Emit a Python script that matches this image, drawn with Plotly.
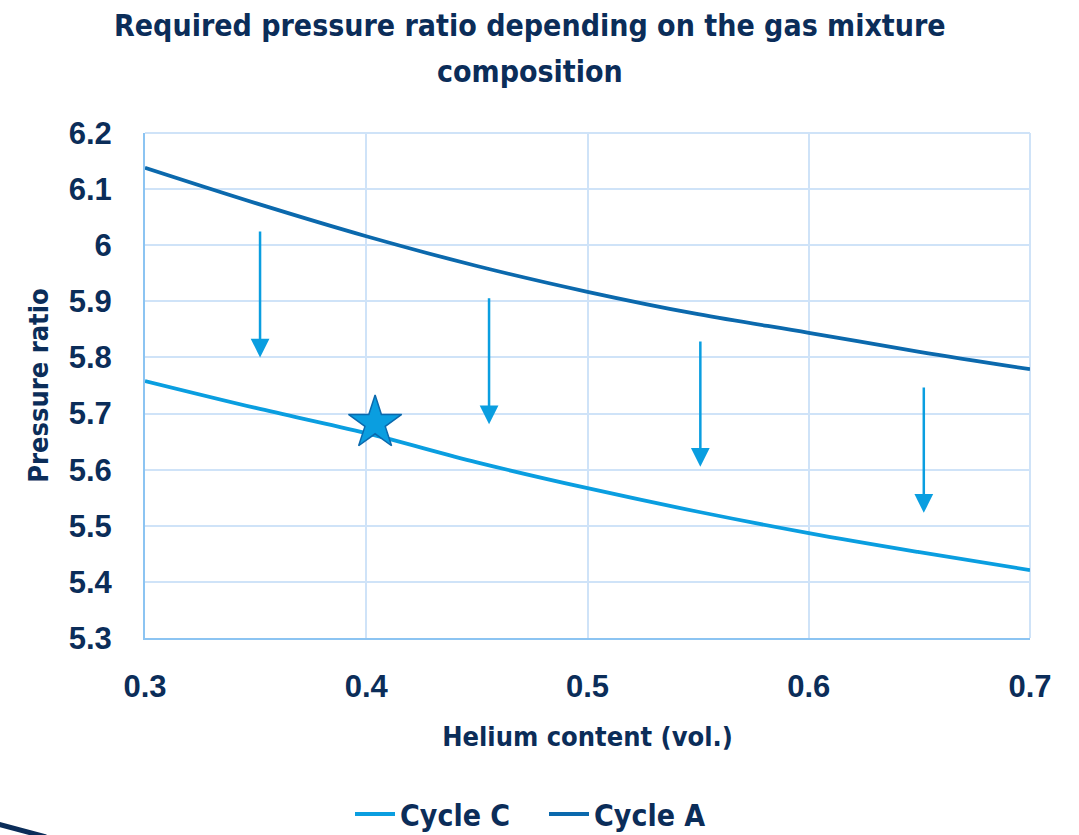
import plotly.graph_objects as go

helium = [0.30, 0.35, 0.40, 0.45, 0.50, 0.55, 0.60, 0.65, 0.70]
cycle_a = [6.138, 6.075, 6.016, 5.963, 5.917, 5.877, 5.844, 5.810, 5.779]
cycle_c = [5.758, 5.710, 5.665, 5.613, 5.567, 5.525, 5.487, 5.453, 5.421]

star_x = [0.404]
star_y = [5.683]

arrow_x = [0.352, 0.4555, 0.551, 0.652]
arrow_top = [6.027, 5.908, 5.831, 5.749]
arrow_bottom = [5.800, 5.681, 5.605, 5.523]

x_ticks = [0.3, 0.4, 0.5, 0.6, 0.7]
y_ticks = [5.3, 5.4, 5.5, 5.6, 5.7, 5.8, 5.9, 6.0, 6.1, 6.2]
y_labels = ["5.3", "5.4", "5.5", "5.6", "5.7", "5.8", "5.9", "6", "6.1", "6.2"]

title_lines = ["Required pressure ratio depending on the gas mixture", "composition"]

NAVY = "#0b2d59"
C_COLOR = "#0a9ee0"
A_COLOR = "#0b69ad"
GRID = "#cfe3f8"
AXIS = "#8cc4f2"
NARROW = "DejaVu Sans Condensed, Liberation Sans Narrow, Arial Narrow, sans-serif"
SANS = "Liberation Sans, Arial, sans-serif"

L, R, T, B = 145, 49, 133, 197
W, H = 1079, 835
PW, PH = W - L - R, H - T - B


def px(xp):
    return (xp - L) / PW


def py(yp):
    return (H - B - yp) / PH


fig = go.Figure()
fig.add_trace(go.Scatter(x=helium, y=cycle_c, mode="lines", name="Cycle C",
                         line=dict(color=C_COLOR, width=3.8, shape="spline")))
fig.add_trace(go.Scatter(x=helium, y=cycle_a, mode="lines", name="Cycle A",
                         line=dict(color=A_COLOR, width=3.8, shape="spline")))
fig.add_trace(go.Scatter(x=star_x, y=star_y, mode="markers", showlegend=False,
                         marker=dict(symbol="star", size=40, color=C_COLOR,
                                     line=dict(color=A_COLOR, width=1.5))))

for xa, yt, yb in zip(arrow_x, arrow_top, arrow_bottom):
    fig.add_annotation(x=xa, y=yb, ax=xa, ay=yt, xref="x", yref="y",
                       axref="x", ayref="y", text="", showarrow=True,
                       arrowhead=2, arrowsize=1.5, arrowwidth=2.5,
                       arrowcolor=C_COLOR)

# title lines
for txt, yc in zip(title_lines, [25, 72]):
    fig.add_annotation(text="<b>%s</b>" % txt, xref="paper", yref="paper",
                       x=px(530), y=py(yc), xanchor="center", yanchor="middle",
                       showarrow=False,
                       font=dict(family=NARROW, size=30, color=NAVY))

# frame edges (top and right) in grid colour
fig.add_shape(type="line", xref="paper", yref="paper", x0=1, x1=1, y0=0, y1=1,
              line=dict(color=GRID, width=2), layer="below")
fig.add_shape(type="line", xref="paper", yref="paper", x0=0, x1=1, y0=1, y1=1,
              line=dict(color=GRID, width=2), layer="below")

# decorative stroke at bottom-left corner
fig.add_shape(type="line", xref="paper", yref="paper",
              x0=px(-2), y0=py(824), x1=px(46), y1=py(837),
              line=dict(color=NAVY, width=5))

fig.update_layout(
    width=W, height=H,
    margin=dict(l=L, r=R, t=T, b=B, autoexpand=False),
    paper_bgcolor="white", plot_bgcolor="white",
    xaxis=dict(range=[0.3, 0.7], tickvals=x_ticks, ticktext=[str(v) for v in x_ticks],
               showgrid=True, gridcolor=GRID, gridwidth=2,
               showline=True, linecolor=AXIS, linewidth=2,
               zeroline=False, ticks="", ticklabelstandoff=20,
               tickfont=dict(family=SANS, size=31, color=NAVY, weight="bold"),
               title=dict(text="<b>Helium content (vol.)</b>", standoff=24,
                          font=dict(family=NARROW, size=27, color=NAVY))),
    yaxis=dict(range=[5.3, 6.2], tickvals=y_ticks, ticktext=y_labels,
               showgrid=True, gridcolor=GRID, gridwidth=2,
               showline=True, linecolor=AXIS, linewidth=2,
               zeroline=False, ticks="", ticklabelstandoff=25,
               tickfont=dict(family=SANS, size=31, color=NAVY, weight="bold"),
               title=dict(text="<b>Pressure ratio</b>", standoff=12,
                          font=dict(family=NARROW, size=27, color=NAVY))),
    legend=dict(orientation="h", x=px(350), xanchor="left",
                yref="container", y=(H - 814) / H, yanchor="middle",
                font=dict(family=NARROW, size=30, color=NAVY, weight="bold"),
                entrywidth=139, entrywidthmode="pixels",
                itemwidth=40, tracegroupgap=0),
    showlegend=True,
)

fig.write_html("out.html")
